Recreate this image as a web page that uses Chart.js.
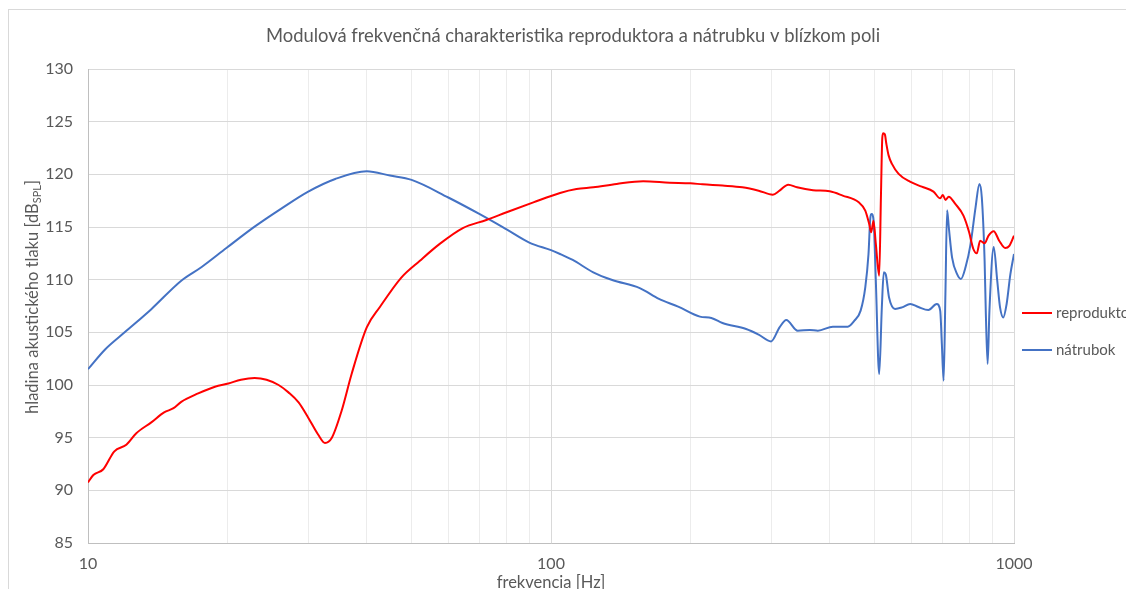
<!DOCTYPE html>
<html>
<head>
<meta charset="utf-8">
<script src="https://cdn.jsdelivr.net/npm/chart.js@4/dist/chart.umd.min.js"></script>
<style>
  html, body { margin: 0; padding: 0; background: #fff; overflow: hidden; }
  #wrap { position: relative; width: 1126px; height: 589px; }
  #frame { position: absolute; left: 8px; top: 9px; width: 1200px; height: 700px; border: 1px solid #d9d9d9; box-sizing: border-box; pointer-events: none; }
  canvas { position: absolute; left: 0; top: 0; }
</style>
</head>
<body>
<div id="wrap">
  <div id="frame"></div>
  <canvas id="c" width="1126" height="589"></canvas>
</div>
<script>
// ---- data ----
const titleText = "Modulová frekvenčná charakteristika reproduktora a nátrubku v blízkom poli";
const xTitle = "frekvencia [Hz]";
const yTitleMain = "hladina akustického tlaku [dB";
const yTitleSub = "SPL";
const seriesNames = ["reproduktor", "nátrubok"];
const xTickValues = [10,20,30,40,50,60,70,80,90,100,200,300,400,500,600,700,800,900,1000];
const xLabelValues = [10, 100, 1000];

const freqRepro = [10,10.27,10.79,11.4,12.1,12.7,13.7,14.6,15.3,15.9,17.3,18.8,20.1,21.4,22.9,24.3,25.8,27.1,28.5,29.9,31.4,32.5,33.6,35.3,37.1,40,42.7,47.5,52.1,57.5,64.5,72.5,80.2,91.6,104.6,113.5,123.4,138.6,158.2,180.4,200,212.5,234.6,259,280.9,301.3,311.6,325.4,339.9,368.1,400,426.6,462,477.3,486.7,491.6,497.2,503,511.5,516,519.5,522,526,530,536,545,563.4,596,632.2,670,692.8,701.8,711.6,722.7,746.8,777.7,800,817,831,845,864,881,904,929,957,977,1000];
const splRepro = [90.75,91.45,92.0,93.7,94.33,95.4,96.45,97.4,97.8,98.4,99.2,99.84,100.15,100.5,100.66,100.5,100.0,99.3,98.35,96.9,95.3,94.5,94.97,97.56,101.05,105.47,107.4,110.2,111.8,113.4,114.9,115.67,116.4,117.34,118.23,118.6,118.77,119.09,119.34,119.21,119.15,119.05,118.93,118.77,118.45,118.07,118.45,119.02,118.77,118.5,118.39,117.98,117.34,116.55,115.28,114.5,115.6,113.4,110.38,118.0,123.5,123.9,123.8,122.9,121.8,120.99,120.04,119.3,118.83,118.36,117.72,118.04,117.56,117.88,117.19,116.08,114.5,112.91,112.5,113.7,113.45,114.18,114.6,113.7,113.0,113.2,114.18];

const freqNatrubok = [10,10.9,12.0,13.7,15.9,17.6,19.9,22.9,26.2,29.9,34.2,40,44.9,50,60,70,80,90,100,104.6,111.4,123.4,135.6,155.5,171.1,188.2,209.7,222,234.6,263.9,280.9,298.7,311.6,322.2,341,362.2,377.1,406.3,437.6,452.1,466.4,477.3,485,489.5,492.4,497.4,503,511.5,518.3,523.3,528.5,537.2,553.4,573.1,596.8,621.7,653.3,680.9,692.8,698.5,704.7,711,717,723,735,754,768,786,806,826,842,852,864,869,877,885,904,920,933,948,964,982,1000];
const splNatrubok = [101.5,103.4,105.0,107.2,109.9,111.2,113.0,115.03,116.77,118.36,119.56,120.29,119.88,119.47,117.8,116.24,114.8,113.5,112.8,112.44,111.87,110.7,109.97,109.2,108.17,107.44,106.49,106.36,105.89,105.32,104.78,104.14,105.47,106.17,105.16,105.22,105.16,105.54,105.54,106.1,107.06,109.27,112.44,115.9,116.24,115.6,109.9,101.04,107.4,110.7,110.5,108.3,107.22,107.37,107.7,107.4,107.12,107.69,107.06,103.9,100.41,108.64,116.6,115.0,112.1,110.5,110.07,111.2,113.4,116.87,119.09,117.82,111.8,107.06,102.0,107.06,113.1,109.9,107.37,106.42,107.69,110.5,112.44];

const yMin = 85, yMax = 130, yStep = 5;
const colors = ["#ff0000", "#4472c4"];

const FONT = "Lato, 'Open Sans', sans-serif";
const TEXT = "#595959";

function pts(xs, ys) { return xs.map((x, i) => ({ x: x, y: ys[i] })); }

const extrasPlugin = {
  id: "extras",
  afterDraw(chart) {
    const ctx = chart.ctx;
    const ca = chart.chartArea;
    ctx.save();
    ctx.fillStyle = TEXT;
    // chart title
    ctx.font = "18.4px " + FONT;
    ctx.textAlign = "center";
    ctx.textBaseline = "middle";
    ctx.fillText(titleText, 573, 36);
    // x axis title
    ctx.font = "16.5px " + FONT;
    ctx.fillText(xTitle, (ca.left + ca.right) / 2, 583);
    // y axis title with subscript
    const mainFont = "16.5px " + FONT, subFont = "11px " + FONT;
    ctx.font = mainFont;
    const w1 = ctx.measureText(yTitleMain).width;
    ctx.font = subFont;
    const w2 = ctx.measureText(yTitleSub).width;
    ctx.font = mainFont;
    const w3 = ctx.measureText("]").width;
    const total = w1 + w2 + w3;
    ctx.translate(33, 297);
    ctx.rotate(-Math.PI / 2);
    ctx.textAlign = "left";
    ctx.textBaseline = "middle";
    const x0 = -total / 2;
    ctx.font = mainFont;
    ctx.fillText(yTitleMain, x0, 0);
    ctx.font = subFont;
    ctx.fillText(yTitleSub, x0 + w1, 4);
    ctx.font = mainFont;
    ctx.fillText("]", x0 + w1 + w2, 0);
    ctx.restore();
    // legend
    ctx.save();
    const ly = [313, 350];
    seriesNames.forEach((name, i) => {
      ctx.strokeStyle = colors[i];
      ctx.lineWidth = 2;
      ctx.beginPath();
      ctx.moveTo(1022, ly[i]);
      ctx.lineTo(1052, ly[i]);
      ctx.stroke();
      ctx.fillStyle = TEXT;
      ctx.font = "15px " + FONT;
      ctx.textAlign = "left";
      ctx.textBaseline = "middle";
      ctx.fillText(name, 1056, ly[i]);
    });
    ctx.restore();
  }
};

new Chart(document.getElementById("c"), {
  type: "line",
  data: {
    datasets: [
      { label: seriesNames[0], data: pts(freqRepro, splRepro), borderColor: colors[0], backgroundColor: colors[0], borderWidth: 2, pointRadius: 0, cubicInterpolationMode: "monotone", fill: false },
      { label: seriesNames[1], data: pts(freqNatrubok, splNatrubok), borderColor: colors[1], backgroundColor: colors[1], borderWidth: 2, pointRadius: 0, cubicInterpolationMode: "monotone", fill: false }
    ]
  },
  options: {
    responsive: false,
    devicePixelRatio: 1,
    animation: false,
    layout: { padding: { left: 0, right: 112, top: 69, bottom: 0 } },
    plugins: {
      legend: { display: false },
      tooltip: { enabled: false },
      title: { display: false }
    },
    scales: {
      x: {
        type: "logarithmic",
        min: 10, max: 1000,
        afterBuildTicks: (s) => { s.ticks = xTickValues.map(v => ({ value: v })); },
        afterFit: (s) => { s.height = 46; },
        ticks: {
          autoSkip: false,
          maxRotation: 0,
          color: TEXT,
          font: { family: FONT, size: 16 },
          padding: 11,
          callback: (v) => xLabelValues.includes(v) ? String(v) : ""
        },
        grid: {
          drawTicks: false,
          color: (c) => (c.tick && xLabelValues.includes(c.tick.value)) ? "#d9d9d9" : "#ececec",
          lineWidth: 1
        },
        border: { display: true, color: "#bfbfbf", width: 1 }
      },
      y: {
        min: yMin, max: yMax,
        afterBuildTicks: (s) => { const t = []; for (let v = yMin; v <= yMax; v += yStep) t.push({ value: v }); s.ticks = t; },
        afterFit: (s) => { s.width = 88; },
        ticks: {
          color: TEXT,
          font: { family: FONT, size: 16 },
          padding: 15
        },
        grid: { drawTicks: false, color: "#d9d9d9", lineWidth: 1 },
        border: { display: true, color: "#bfbfbf", width: 1 }
      }
    }
  },
  plugins: [extrasPlugin]
});
</script>
</body>
</html>
